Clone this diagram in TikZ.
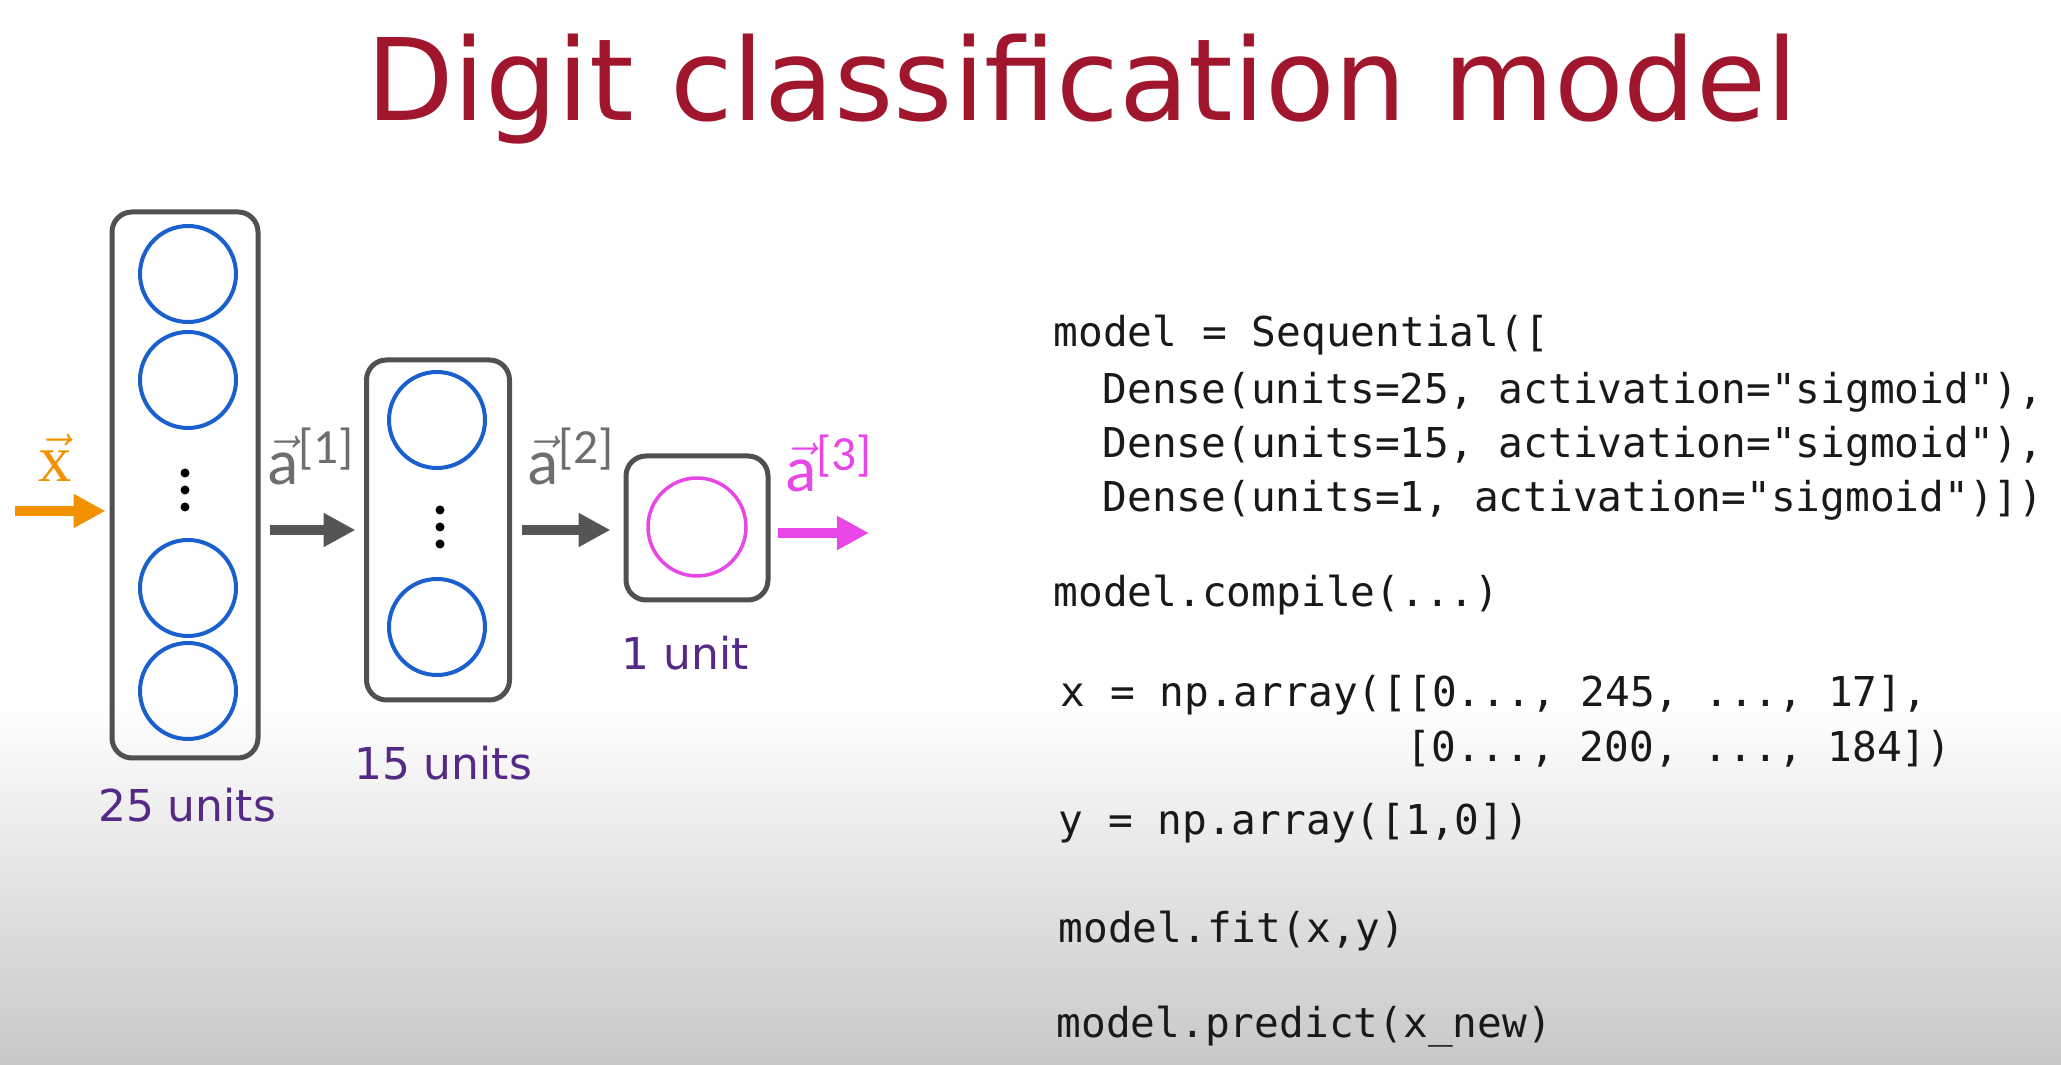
\documentclass[tikz,border=0pt]{standalone}
\usepackage{fontspec}
\setmainfont{DejaVu Sans}
\newfontfamily\codefont{DejaVu Sans Mono}
\newfontfamily\vecfont{Carlito}
\newfontfamily\serffont{Liberation Serif}
\usepackage{tikz}
\usetikzlibrary{arrows.meta,positioning,shapes}
\usepackage{xcolor}

\definecolor{titlered}{RGB}{160,22,45}
\definecolor{boxgray}{RGB}{80,80,80}
\definecolor{arrgray}{RGB}{85,85,85}
\definecolor{labgray}{RGB}{110,110,110}
\definecolor{unitblue}{RGB}{25,95,205}
\definecolor{outpink}{RGB}{232,70,230}
\definecolor{inorange}{RGB}{243,146,0}
\definecolor{unitpurple}{RGB}{85,42,135}
\definecolor{codeblack}{RGB}{25,25,25}
\definecolor{bgbottom}{RGB}{200,200,200}

\newcommand{\veclab}[2]{$\vec{\mbox{#1}}$\raisebox{6pt}{\fontsize{14}{14}\selectfont #2}}

\begin{document}
\begin{tikzpicture}[x=0.1mm, y=-0.1mm,
  layer/.style={draw=boxgray, line width=0.5mm, rounded corners=2mm, inner sep=0pt},
  unit/.style={circle, draw=unitblue, line width=0.4mm, minimum size=9.6mm, inner sep=0pt},
  outunit/.style={circle, draw=outpink, line width=0.35mm, minimum size=9.8mm, inner sep=0pt},
  dot/.style={circle, fill=black, minimum size=0.9mm, inner sep=0pt},
  garrow/.style={draw=arrgray, line width=1mm, -{Triangle[length=3.2mm, width=3.2mm]}},
  lbl/.style={anchor=base, text=unitpurple, font=\fontsize{12.5}{14}\selectfont},
  vlbl/.style={anchor=base west, text=labgray, font=\vecfont\fontsize{18.5}{19}\selectfont, inner sep=0pt},
  code/.style={anchor=base west, text=codeblack, inner sep=0pt, font=\codefont\fontsize{11.7}{14}\selectfont}
]

% Background
\fill[white] (0,0) rectangle (2061,700);
\shade[top color=white, bottom color=bgbottom] (0,700) rectangle (2061,1065);
\useasboundingbox (0,0) rectangle (2061,1065);

% Title
\node[anchor=base, text=titlered, font=\fontsize{32.4}{36}\selectfont] (title) at (1082,121) {Digit classification model};

% ======= Layers =======
\node[layer, minimum width=14.6mm, minimum height=54.6mm] (l1) at (185,485) {};
\node[layer, minimum width=14.3mm, minimum height=34mm] (l2) at (438,530) {};
\node[layer, minimum width=14.2mm, minimum height=14.4mm] (l3) at (697,528) {};

% ======= Units =======
\foreach \n/\y in {1/274,2/380,3/588,4/691}
  \node[unit] (u1\n) at (188,\y) {};
\foreach \n/\y in {1/420,2/627}
  \node[unit] (u2\n) at (437,\y) {};
\node[outunit] (u31) at (697,527) {};

\foreach \y in {473,490,507}
  \node[dot] (d1\y) at (185,\y) {};
\foreach \y in {510,527,544}
  \node[dot] (d2\y) at (440,\y) {};

% ======= Arrows =======
\coordinate (xin) at (15,511);
\coordinate (aout) at (869,533);
\draw[garrow, draw=inorange, shorten >=0.4mm] (xin) -- (xin -| l1.west);
\draw[garrow, shorten <=0.9mm, shorten >=0.85mm] (l1.east |- l2.center) -- (l2.west);
\draw[garrow, shorten <=1mm, shorten >=1.3mm] (l2.east) -- (l2.east -| l3.west);
\draw[garrow, draw=outpink, shorten <=0.7mm] (l3.east |- aout) -- (aout);

% ======= Labels =======
\node[anchor=base, text=inorange, font=\serffont\fontsize{19}{19}\selectfont, inner sep=0pt] (xl) at (55,482) {$\vec{\mbox{x}}$};
\node[vlbl] (al1) at (267,485) {\veclab{a}{[1]}};
\node[vlbl] (al2) at (527,485) {\veclab{a}{[2]}};
\node[vlbl, text=outpink] (al3) at (785,492) {\veclab{a}{[3]}};

\node[lbl] (n1) at (187,822) {25 units};
\node[lbl] (n2) at (443,780) {15 units};
\node[lbl] (n3) at (685,670) {1 unit};

% ======= Code =======
\node[code] (c1) at (1053,347) {model = Sequential([};
\node[code] (c2) at (1102,404) {Dense(units=25, activation="sigmoid"),};
\node[code] (c3) at (1102,458) {Dense(units=15, activation="sigmoid"),};
\node[code] (c4) at (1102,512) {Dense(units=1, activation="sigmoid")])};
\node[code] (c5) at (1053,607) {model.compile(...)};
\node[code] (c6) at (1060,707) {x = np.array([[0..., 245, ..., 17],};
\node[code] (c7) at (1406,762) {[0..., 200, ..., 184])};
\node[code] (c8) at (1058,835) {y = np.array([1,0])};
\node[code] (c9) at (1058,943) {model.fit(x,y)};
\node[code] (c10) at (1056,1038) {model.predict(x\_new)};

\end{tikzpicture}
\end{document}
